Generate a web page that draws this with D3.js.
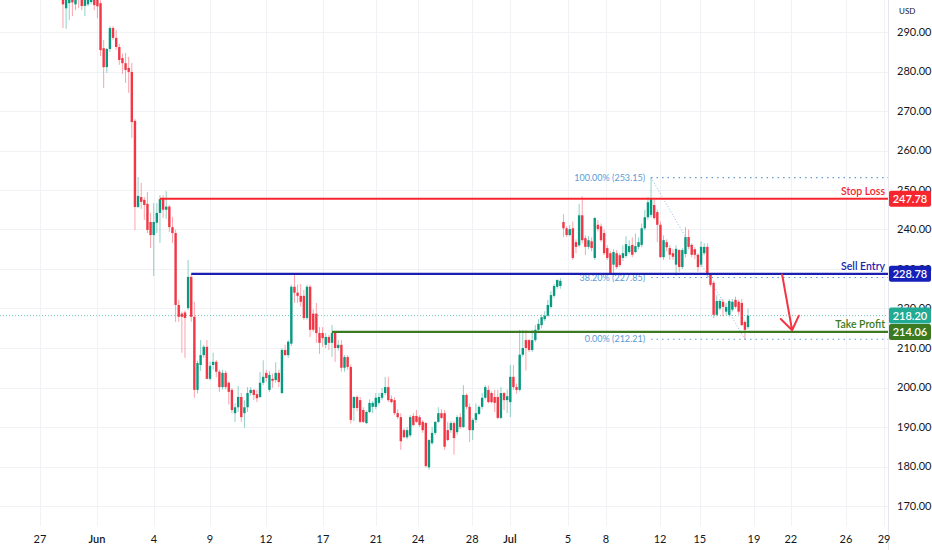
<!DOCTYPE html>
<html><head><meta charset="utf-8">
<script src="https://cdn.jsdelivr.net/npm/d3@7"></script>
<style>
html,body{margin:0;padding:0;background:#fff;}
svg{display:block;font-family:"Lato","Liberation Sans",sans-serif;}
</style></head>
<body>
<svg id="chart" width="932" height="550"></svg>
<script>
// ---- data ----
const open = [301,296,297.3,299.5,297,300,299.5,296.6,297,297.6,299,298.5,297.3,285.9,281.1,285.7,291.0,288.5,286.2,283.4,282.1,280.9,279.9,267.5,245.7,248.2,247.5,246.5,241.9,238.6,241.7,244.2,247.7,245.0,245.8,240.6,239.1,220.9,218.7,219.0,220.1,228.0,217.9,199.4,205.7,208.2,210.3,202.2,205.7,206.5,204.0,200.1,203.7,201.2,199.4,193.5,195.0,197.6,193.5,195.0,198.6,199.4,198.3,197.6,201.2,203.7,199.4,202.2,201.9,203.7,198.6,209.5,208.2,211.1,225.5,224.0,223.2,223.2,217.6,225.5,218.7,218.7,213.8,213.8,210.8,212.8,211.3,213.8,210.0,210.8,205.0,207.7,205.2,194.8,197.6,196.8,194.3,191.0,193.8,195.1,195.1,196.1,197.4,198.6,200.1,197.1,196.8,193.5,192.5,189.2,187.4,187.9,192.8,192.8,192.5,191.3,191,179.8,185.9,188.5,191.3,193.5,193.5,189.2,189.2,191.0,188.7,192.5,190.0,198.1,195.1,189.2,191.8,193.3,195.1,197.4,199.4,198.6,197.6,197.6,192.3,198.6,196.8,196.3,202.7,200.1,199.4,208.3,212.0,212.0,209.5,212.0,214.6,215.8,217.3,218.2,220.4,223.2,225.5,225.7,
  241.9,240.3,238.6,240.3,236.8,236.0,243.6,237.8,235.6,237.0,232.8,241.2,240.8,239.1,235.3,234.0,231.1,234.0,233.5,232.8,233.3,234.3,236.1,234.3,235.6,236.1,240.3,243.1,243.7,246.2,244.4,241.2,233.0,236.8,235.3,234.0,231.1,234.8,230.5,233.8,238.1,236.1,235.0,233.6,231.1,234.0,235.6,228.5,226.5,218.4,220.0,221.7,219.2,218.4,219.7,222.2,221.7,221.4,216.6,215.3];
const high = [303,302,300,301,300,302,301,300,300.5,300,300,299.5,298,288.0,286,291.5,291.5,290.5,287,284.5,284.7,283.7,282.2,268,253.3,251.8,248.2,249.5,244.2,246.7,246.7,248.7,248.7,249.7,246.2,243.2,240,222.2,219.2,219.5,232.3,228.8,221.7,206.8,212,210.8,212,206.5,208.8,207,204.5,204.5,204.3,201.5,199.9,196,200.4,198.6,196.8,200.1,200.1,199.6,199.4,203.9,206.9,204.5,204.2,203.5,206.4,204.5,210,210.8,212,226,228.5,226,226.2,224.7,226,226,219.8,221.4,215.3,215.3,213.8,213.3,215.8,214.1,212,212,208.2,208.2,205.8,197.8,198,197.6,195,194.2,197,196.6,198.6,198.6,199.9,202.7,202.7,198,197.5,194.5,193.5,189.7,190,193,193.5,194.3,193,191.8,191.3,186.9,190,191.5,195,194.5,194.3,191.3,191.5,191.5,193,193.5,200.6,198.5,196,192.3,196,195.5,198.6,200.6,200.5,199,199.4,199.4,200.1,198.9,199.5,205.7,205.7,201,214.6,214.6,214.6,212.3,214.6,215.8,217.3,218.5,219.3,222.2,224.4,226.2,227.4,227.7,
  243.9,240.8,241.1,242,237.5,246.5,248.4,238.5,238.3,238,243.2,242.4,241.5,240,236,234.5,235,234.8,234,236,238.3,237.3,238,239,238,241.5,245,248.2,253.15,247.5,245,242,238.5,237.5,236,235,236,235,235.3,240.6,240,236.5,235.5,234,237,236.5,236.5,229,227,223.4,222.4,222.4,221.4,222.4,222.4,223,222.2,222.4,217,220];
const low = [291.0,290.8,293,294,295.5,296,295.5,294,296.5,297,295.5,293.5,283.9,275.8,279.6,285,288,285.5,281.7,279.4,277.1,274.6,263.2,239.9,245.4,245.2,242.4,239.1,235.3,228.2,239.1,236.6,242.9,242.7,239.4,236.6,216.6,216.6,208.8,207.5,219.6,216.6,197.4,198.5,204.2,207.5,202.1,201.8,204.5,202.6,198.9,199.5,199.5,195.7,193.5,191.3,193.8,191.3,189.8,193.8,198,196.8,196.3,197.3,200.6,201.5,198.9,199.9,201.2,200.1,198.3,208,207.5,210.5,221.4,221.4,220.5,217.1,217.1,212.8,214.1,211.3,208.5,210.3,210,209.5,207.8,206.5,209.3,204,204,204.5,190.9,191.5,194,191,191,190.7,193.5,193.5,194.5,195.5,196.8,198,196.3,196,193,192,184.2,187.2,186.9,187.4,190.2,191.0,190,188.5,179.8,179.2,185.5,188,191,192,184.2,186.4,188.5,183,188,189.5,189.7,194.5,186.2,186.7,191,193,194.5,197,196,196,193.8,192,192,194.3,193.5,192.5,199.4,198.5,199,207.8,204.3,209,209,211.5,214,215,216.8,217.8,220,222.7,225,225.0,
  238.1,238.1,238.3,232.3,234,235.5,236.5,233.5,235,234.5,232.3,239.5,236.8,233.5,232.3,228.5,228.8,230,230.5,232,232.8,233.8,233,234,235,235.5,239.8,242.5,243,242.5,236.8,232.8,232.3,234.5,232.3,232.3,228.3,229.3,230,233,235,233,232.5,229.3,230.5,233.5,228.0,225.5,217.6,218,219.5,218,218.4,218,219.2,220,218.5,215.5,212.21,214.8];
const close = [297,299,299.5,297.5,299,298.5,296.6,299,299.5,299,296.8,296.5,285.4,281.1,285.7,291.0,288.5,286.2,282.9,282.1,280.4,279.9,267.2,245.7,248.5,247.0,246.2,239.9,238.6,241.9,244.2,247.7,245.0,245.8,240.6,239.1,220.9,217.9,217.9,217.6,228.0,217.9,199.4,206.2,208.2,210.3,202.2,205.5,206.5,204.0,200.1,203.7,200.1,198.9,194.3,195.0,197.6,192.5,195.0,198.6,199.4,198.1,197.3,201.2,202.7,202.4,203.2,201.7,203.7,201.4,209.5,208.2,211.6,225.5,224.0,223.2,221.7,217.6,225.5,214.6,214.6,213.8,211.3,212.5,212.8,211.3,213.8,210.0,210.8,205.0,207.7,205.2,191.8,197.6,194.8,191.3,191.3,193.8,196.1,196.1,197.4,197.6,198.6,200.1,196.8,196.3,193.5,192.5,186.4,187.4,189.2,192.5,190.5,191.3,190.5,189.2,180.1,186.7,188.5,191.3,193.5,192.3,185.0,186.7,191.0,187.2,192.5,190.0,198.1,195.1,189.2,191.8,193.5,195.1,197.4,200.1,196.3,196.3,196.1,192.3,198.6,196.8,197.8,202.7,200.1,199.4,208.3,210.0,210.0,209.5,212.0,214.6,216.1,217.8,218.2,220.9,223.4,225.7,227.2,227.0,
  240.3,238.6,240.1,232.8,235.6,243.6,237.3,235.6,237.3,235.3,242.9,240.1,237.3,234.0,232.8,229.0,234.3,230.5,231.0,234.0,236.3,235.8,233.6,235.8,236.8,240.3,243.1,246.9,247.7,242.9,241.2,233.0,237.3,235.5,233.6,233.1,235.1,230.5,234.8,238.1,235.6,233.6,233.6,230.5,235.6,235.6,228.5,226.0,218.4,221.9,221.9,220.4,220.4,221.9,221.7,220.4,219.2,215.8,214.6,218.2];

const priceTicks = [170,180,190,200,210,220,230,240,250,260,270,280,290];
const dateLabels = ["27","Jun","4","9","12","17","21","24","28","Jul","5","8","12","15","19","22","26","29"];
// position of each date label, in candle-index units
const dateIndex  = [-7.35,10.87,29.09,47.0,64.9,83.1,100.1,113.5,130.8,142.9,161.4,173.6,190.9,203.6,220.9,232.7,250.3,262.5];

// trade levels: name, price, starting candle index
const levelNames  = ["Stop Loss","Sell Entry","Take Profit"];
const levelPrices = [247.78, 228.78, 214.06];
const levelStart  = [31, 41, 86];
const lastPrice = 218.20;

// fibonacci retracement: high anchor candle 188, low anchor candle 218
const fibHigh = 253.15, fibLow = 212.21;
const fibHighIdx = 188, fibLowIdx = 218;
const fibLevels = [1.0, 0.382, 0.0];
const fibText = ["100.00% (253.15)","38.20% (227.85)","0.00% (212.21)"];

// projected move arrow (candle index, price)
const arrowFrom = [229.9, 228.6];
const arrowTo   = [233.1, 214.5];

// ---- drawing ----
const W = 932, H = 550, plotR = 888, plotB = 526;
const svg = d3.select("#chart");
const x = d3.scaleLinear().domain([-20.14, 263.75]).range([0, plotR]);
const y = d3.scaleLinear().domain([170, 290]).range([506, 32]);

const RED = "#f23645", GREEN = "#089981";
const levelColors = ["#f7262e","#1a1fb0","#3b7a20"];
const boxColors   = ["#f7262e","#1520b8","#3b7a20"];

svg.append("rect").attr("width",W).attr("height",H).attr("fill","#fff");
svg.append("defs").append("clipPath").attr("id","plot")
  .append("rect").attr("x",0).attr("y",0).attr("width",plotR).attr("height",plotB);

const grid = svg.append("g");
grid.selectAll("line.h").data(priceTicks).join("line")
  .attr("x1",0).attr("x2",plotR).attr("y1",d=>Math.round(y(d))+0.5).attr("y2",d=>Math.round(y(d))+0.5)
  .attr("stroke","#f0f2f5").attr("stroke-width",1);
grid.selectAll("line.v").data(dateIndex).join("line")
  .attr("y1",0).attr("y2",plotB).attr("x1",d=>Math.round(x(d))+0.5).attr("x2",d=>Math.round(x(d))+0.5)
  .attr("stroke","#f0f2f5").attr("stroke-width",1);

svg.append("line").attr("x1",plotR+0.5).attr("x2",plotR+0.5).attr("y1",0).attr("y2",H)
  .attr("stroke","#e6e8ee");

const plot = svg.append("g").attr("clip-path","url(#plot)");

plot.append("line").attr("x1",0).attr("x2",plotR).attr("y1",y(lastPrice)).attr("y2",y(lastPrice))
  .attr("stroke","#6cc5b8").attr("stroke-width",1).attr("stroke-dasharray","1,2");

// candles
const idx = d3.range(open.length);
const cg = plot.append("g");
cg.selectAll("line.w").data(idx).join("line")
  .attr("x1",i=>x(i)).attr("x2",i=>x(i))
  .attr("y1",i=>y(high[i])).attr("y2",i=>y(low[i]))
  .attr("stroke",i=>close[i]>=open[i]?GREEN:RED).attr("stroke-opacity",0.45).attr("stroke-width",1);
cg.selectAll("rect.b").data(idx).join("rect")
  .attr("x",i=>x(i)-1.2).attr("width",2.4)
  .attr("y",i=>y(Math.max(open[i],close[i])))
  .attr("height",i=>Math.max(1,Math.abs(y(open[i])-y(close[i]))))
  .attr("fill",i=>close[i]>=open[i]?GREEN:RED);

// fibonacci
const FIB = "#5c9bd6";
const fx0 = x(fibHighIdx);
plot.append("line").attr("x1",x(fibHighIdx)).attr("y1",y(fibHigh)).attr("x2",x(fibLowIdx)).attr("y2",y(fibLow))
  .attr("stroke",FIB).attr("stroke-opacity",0.7).attr("stroke-width",1).attr("stroke-dasharray","1,2");
fibLevels.forEach((f,k)=>{
  const p = fibLow + (fibHigh-fibLow)*f;
  plot.append("line").attr("x1",fx0).attr("x2",plotR).attr("y1",y(p)).attr("y2",y(p))
    .attr("stroke",FIB).attr("stroke-width",1.2).attr("stroke-dasharray","1.5,4");
  plot.append("text").attr("x",fx0-6).attr("y",y(p)).attr("dy","0.35em")
    .attr("text-anchor","end").attr("font-size",9).attr("fill",FIB).text(fibText[k]);
});

// trade levels
levelPrices.forEach((p,k)=>{
  plot.append("line").attr("x1",x(levelStart[k])).attr("x2",plotR).attr("y1",y(p)).attr("y2",y(p))
    .attr("stroke",levelColors[k]).attr("stroke-width",2.2);
  plot.append("text").attr("x",885).attr("y",y(p)-4).attr("text-anchor","end")
    .attr("font-size",10.5).attr("font-weight",600).attr("fill",levelColors[k]).text(levelNames[k]);
});

// arrow
const ax1 = x(arrowFrom[0]), ay1 = y(arrowFrom[1]), ax2 = x(arrowTo[0]), ay2 = y(arrowTo[1]);
const ang = Math.atan2(ay1-ay2, ax1-ax2), L = 16, spread = 35*Math.PI/180;
const arrowPath = `M${ax1},${ay1}L${ax2},${ay2}M${ax2+L*Math.cos(ang+spread)},${ay2+L*Math.sin(ang+spread)}L${ax2},${ay2}L${ax2+L*Math.cos(ang-spread)},${ay2+L*Math.sin(ang-spread)}`;
plot.append("path").attr("d",arrowPath).attr("fill","none").attr("stroke","#f23645")
  .attr("stroke-width",2).attr("stroke-linejoin","round").attr("stroke-linecap","round");

// price axis
svg.append("g").selectAll("text").data(priceTicks).join("text")
  .attr("x",897).attr("y",d=>y(d)).attr("dy","0.35em").attr("font-size",11)
  .attr("fill","#131722").text(d=>d.toFixed(2));
svg.append("text").attr("x",899).attr("y",14).attr("font-size",8).attr("fill","#131722").text("USD");

// price boxes
const boxPrices = [levelPrices[0], levelPrices[1], lastPrice, levelPrices[2]];
const boxFill = [boxColors[0], boxColors[1], "#22ab94", boxColors[2]];
boxPrices.forEach((p,k)=>{
  svg.append("rect").attr("x",889).attr("y",y(p)-8).attr("width",42).attr("height",16)
    .attr("rx",2).attr("fill",boxFill[k]);
  svg.append("text").attr("x",910).attr("y",y(p)).attr("dy","0.36em").attr("text-anchor","middle")
    .attr("font-size",11).attr("font-weight",600).attr("fill","#fff").text(p.toFixed(2));
});

// time axis
svg.append("g").selectAll("text").data(dateLabels).join("text")
  .attr("x",(d,i)=>x(dateIndex[i])).attr("y",539).attr("dy","0.35em").attr("text-anchor","middle")
  .attr("font-size",11).attr("font-weight",(d)=>(d==="Jun"||d==="Jul")?600:400)
  .attr("fill","#131722").text(d=>d);
</script>
</body></html>
